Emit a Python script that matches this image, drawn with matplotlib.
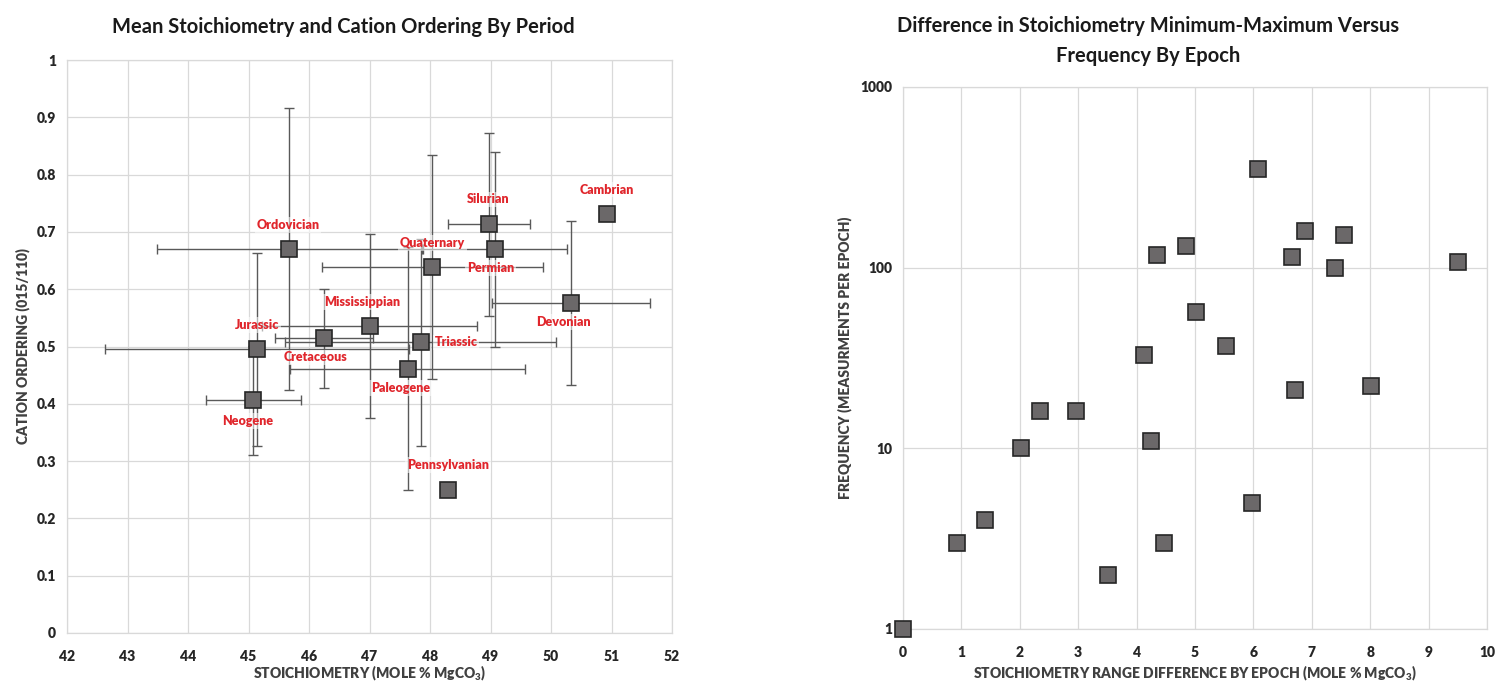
import matplotlib
matplotlib.use('Agg')
import matplotlib.pyplot as plt
import numpy as np
from matplotlib.ticker import FixedLocator, FuncFormatter, NullLocator

plt.rcParams['font.family'] = ['Lato', 'DejaVu Sans']
plt.rcParams['font.weight'] = 'heavy'
plt.rcParams['mathtext.fontset'] = 'custom'
plt.rcParams['mathtext.rm'] = 'Lato:heavy'
plt.rcParams['mathtext.it'] = 'Lato:heavy'
plt.rcParams['mathtext.bf'] = 'Lato:heavy'
plt.rcParams['mathtext.default'] = 'rm'

# ---------------- Left chart data ----------------
periods = ['Cambrian', 'Ordovician', 'Silurian', 'Devonian', 'Mississippian',
           'Pennsylvanian', 'Permian', 'Triassic', 'Jurassic', 'Cretaceous',
           'Paleogene', 'Neogene', 'Quaternary']
stoichiometry = [50.92, 45.67, 48.98, 50.33, 47.00, 48.30, 49.08, 47.85, 45.14,
                 46.25, 47.63, 45.08, 48.04]
cation_ordering = [0.732, 0.670, 0.713, 0.576, 0.536, 0.249, 0.670, 0.507, 0.495,
                   0.514, 0.461, 0.406, 0.639]
stoichiometry_err = [0.0, 2.19, 0.68, 1.30, 1.77, 0.0, 1.19, 2.24, 2.52, 0.81,
                     1.94, 0.79, 1.82]
ordering_err = [0.0, 0.246, 0.160, 0.143, 0.160, 0.0, 0.170, 0.181, 0.169, 0.086,
                0.212, 0.095, 0.195]
left_xticks = [42, 43, 44, 45, 46, 47, 48, 49, 50, 51, 52]
left_yticks = [0, 0.1, 0.2, 0.3, 0.4, 0.5, 0.6, 0.7, 0.8, 0.9, 1]

# ---------------- Right chart data ----------------
range_difference = [0.00, 0.93, 1.40, 2.02, 2.34, 2.96, 3.51, 4.13, 4.25, 4.35,
                    4.47, 4.84, 5.01, 5.53, 5.97, 6.08, 6.66, 6.72, 6.89, 7.40,
                    7.55, 8.01, 9.50]
frequency = [1, 3, 4, 10, 16, 16, 2, 33, 11, 118, 3, 131, 57, 37, 5, 351, 114,
             21, 160, 100, 152, 22, 108]
right_xticks = [0, 1, 2, 3, 4, 5, 6, 7, 8, 9, 10]
right_yticks = [1, 10, 100, 1000]

# label offsets (pixels) relative to each point
label_offsets = {
    'Cambrian': (0, 24), 'Ordovician': (-1, 24), 'Silurian': (-1, 25),
    'Devonian': (-8, -19), 'Mississippian': (-7, 24), 'Pennsylvanian': (0, 25),
    'Permian': (-5, -19), 'Triassic': (35, 0), 'Jurassic': (0, 24),
    'Cretaceous': (-9, -19), 'Paleogene': (-7, -19), 'Neogene': (-6, -21),
    'Quaternary': (0, 24),
}

W, H = 1495, 690
PT = 0.72  # points per pixel at dpi 100

fig = plt.figure(figsize=(W / 100, H / 100), dpi=100)
fig.patch.set_facecolor('white')

ax1 = fig.add_axes([67 / W, 1 - 633 / H, (672 - 67) / W, (633 - 60) / H])
ax2 = fig.add_axes([903 / W, 1 - 629 / H, (1487 - 903) / W, (629 - 87) / H])

grid_c = '#d9d9d9'
tick_c = '#262626'
axis_title_c = '#404040'
marker_face = '#6b6869'
marker_edge = '#262626'

for ax in (ax1, ax2):
    ax.set_facecolor('white')
    ax.grid(True, color=grid_c, lw=0.9, zorder=0)
    ax.set_axisbelow(True)
    for s in ax.spines.values():
        s.set_color(grid_c)
        s.set_linewidth(0.9)
    ax.tick_params(length=0, labelsize=10, colors=tick_c)

# ---------------- Left chart ----------------
ax1.set_xlim(42, 52)
ax1.set_ylim(0, 1)
ax1.xaxis.set_major_locator(FixedLocator(left_xticks))
ax1.yaxis.set_major_locator(FixedLocator(left_yticks))
ax1.yaxis.set_major_formatter(FuncFormatter(lambda v, p: f'{v:g}'))
ax1.xaxis.set_major_formatter(FuncFormatter(lambda v, p: f'{v:g}'))
ax1.tick_params(axis='x', pad=12)
ax1.tick_params(axis='y', pad=8)

ax1.errorbar(stoichiometry, cation_ordering, xerr=stoichiometry_err, yerr=ordering_err,
             fmt='none', ecolor='#595959', elinewidth=1.0, capsize=3.5, capthick=1.0,
             zorder=2)
ax1.plot(stoichiometry, cation_ordering, linestyle='none', marker='s',
         markersize=16 * PT, markerfacecolor=marker_face, markeredgecolor=marker_edge,
         markeredgewidth=1.2, zorder=3, clip_on=False)

for name, xv, yv in zip(periods, stoichiometry, cation_ordering):
    dx, dy = label_offsets[name]
    ax1.annotate(name, (xv, yv), xytext=(dx * PT, dy * PT), textcoords='offset points',
                 ha='center', va='center', fontsize=9, color='#e0262c', fontweight='heavy',
                 zorder=4,
                 bbox=dict(boxstyle='square,pad=0.15', facecolor='white', edgecolor='none',
                           alpha=0.55))

ax1.set_xlabel('STOICHIOMETRY (MOLE % MgCO$_3$)', fontsize=10, color=axis_title_c,
               fontweight='heavy', va='center')
ax1.set_ylabel('CATION ORDERING (015/110)', fontsize=10, color=axis_title_c,
               fontweight='heavy', va='center')
ax1.xaxis.set_label_coords(0.5, (633 - 673) / 573)
ax1.yaxis.set_label_coords((23 - 67) / 605, 0.5)

# ---------------- Right chart ----------------
ax2.set_yscale('log')
ax2.set_xlim(0, 10)
ax2.set_ylim(1, 1000)
ax2.xaxis.set_major_locator(FixedLocator(right_xticks))
ax2.yaxis.set_major_locator(FixedLocator(right_yticks))
ax2.yaxis.set_minor_locator(NullLocator())
ax2.xaxis.set_major_formatter(FuncFormatter(lambda v, p: f'{v:g}'))
ax2.yaxis.set_major_formatter(FuncFormatter(lambda v, p: f'{v:g}'))
ax2.tick_params(axis='x', pad=12)
ax2.tick_params(axis='y', pad=8)

ax2.plot(range_difference, frequency, linestyle='none', marker='s',
         markersize=16 * PT, markerfacecolor=marker_face, markeredgecolor=marker_edge,
         markeredgewidth=1.2, zorder=3, clip_on=False)

ax2.set_xlabel('STOICHIOMETRY RANGE DIFFERENCE BY EPOCH (MOLE % MgCO$_3$)', fontsize=10,
               color=axis_title_c, fontweight='heavy', va='center')
ax2.set_ylabel('FREQUENCY (MEASURMENTS PER EPOCH)', fontsize=10, color=axis_title_c,
               fontweight='heavy', va='center')
ax2.xaxis.set_label_coords(0.5, (629 - 673) / 542)
ax2.yaxis.set_label_coords((845 - 903) / 584, 0.5)

# ---------------- Titles ----------------
fig.text(343 / W, 1 - 27 / H, 'Mean Stoichiometry and Cation Ordering By Period',
         ha='center', va='center', fontsize=14.5, color='#1a1a1a', fontweight='bold')
fig.text(1148 / W, 1 - 41 / H,
         'Difference in Stoichiometry Minimum-Maximum Versus\nFrequency By Epoch',
         ha='center', va='center', fontsize=14.5, color='#1a1a1a', fontweight='bold',
         linespacing=1.6)

fig.savefig('out.png', dpi=100, facecolor='white')
